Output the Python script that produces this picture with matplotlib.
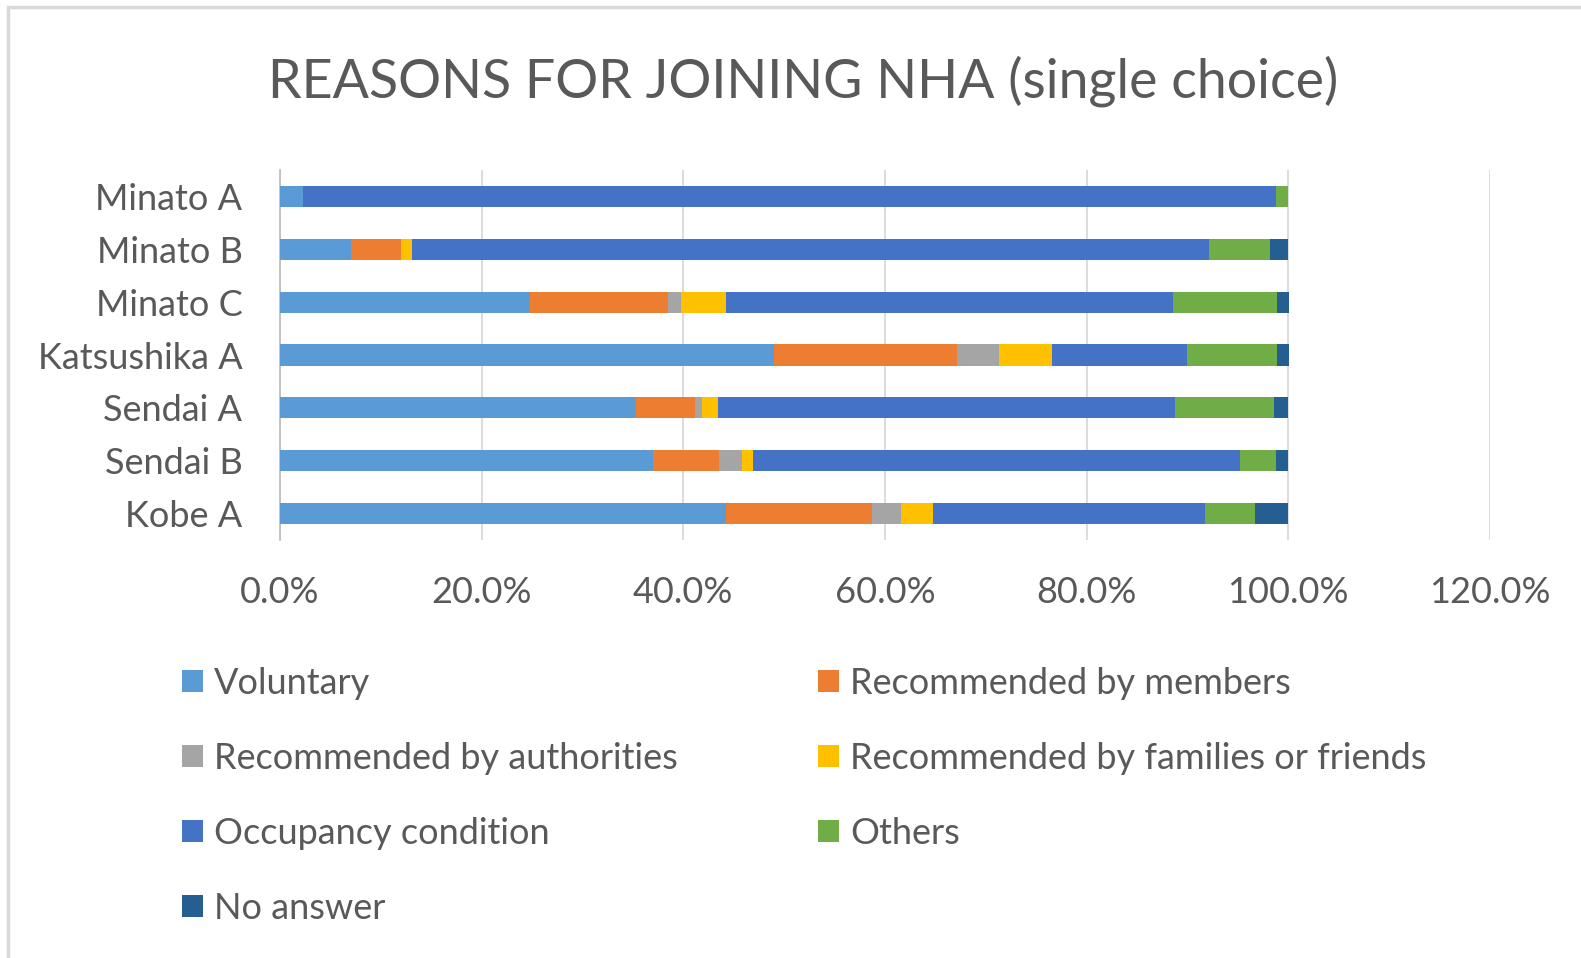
import numpy as np
import matplotlib.pyplot as plt
from matplotlib.patches import Patch, Rectangle

# Survey sites, top to bottom
sites = ['Minato A', 'Minato B', 'Minato C', 'Katsushika A', 'Sendai A', 'Sendai B', 'Kobe A']

# Share of respondents (%) for each reason
voluntary   = [2.3, 7.0, 24.8, 49.0, 35.3, 37.0, 44.2]
by_members  = [0.0, 5.0, 13.7, 18.1, 5.9, 6.5, 14.5]
by_authority = [0.0, 0.0, 1.3, 4.2, 0.7, 2.3, 2.9]
by_family   = [0.0, 1.1, 4.4, 5.3, 1.5, 1.1, 3.2]
occupancy   = [96.5, 79.0, 44.4, 13.4, 45.4, 48.3, 26.9]
others      = [1.2, 6.1, 10.3, 8.9, 9.8, 3.6, 5.0]
no_answer   = [0.0, 1.8, 1.2, 1.2, 1.4, 1.2, 3.3]

series = [
    ('Voluntary', voluntary, '#5B9BD5'),
    ('Recommended by members', by_members, '#ED7D31'),
    ('Recommended by authorities', by_authority, '#A5A5A5'),
    ('Recommended by families or friends', by_family, '#FFC000'),
    ('Occupancy condition', occupancy, '#4472C4'),
    ('Others', others, '#70AD47'),
    ('No answer', no_answer, '#255E91'),
]

text_col = '#595959'
plt.rcParams['font.family'] = ['Lato', 'DejaVu Sans']

fig = plt.figure(figsize=(15.81, 9.58), dpi=100)
ax = fig.add_axes([0.1771, 0.4363, 0.7653, 0.3862])

# chart frame (only top and left edges fall inside the image)
fig.patches.append(Rectangle((8 / 1581, -0.1), 1.2, 1 - 7 / 958 + 0.1,
                             transform=fig.transFigure, fill=False,
                             edgecolor='#D9D9D9', linewidth=2.5, zorder=0))

y = np.arange(len(sites))
left = np.zeros(len(sites))
handles = {}
for name, vals, col in series:
    vals = np.array(vals)
    ax.barh(y, vals, left=left, height=0.4, color=col, zorder=3)
    left += vals
    handles[name] = Patch(facecolor=col)

ax.set_xlim(0, 120)
ax.set_ylim(len(sites) - 0.5, -0.5)
ax.set_yticks(y)
ax.set_yticklabels(sites)
xt = np.arange(0, 121, 20)
ax.set_xticks(xt)
ax.set_xticklabels([f'{v:.1f}%' for v in xt])
ax.tick_params(axis='both', length=0, labelsize=26, labelcolor=text_col)
ax.tick_params(axis='x', pad=26)
ax.tick_params(axis='y', pad=27)
ax.grid(axis='x', color='#D9D9D9', linewidth=1.3, zorder=0)
for s in ['top', 'right', 'bottom']:
    ax.spines[s].set_visible(False)
ax.spines['left'].set_color('#BFBFBF')
ax.spines['left'].set_linewidth(1.3)

fig.text(0.508, 0.915, 'REASONS FOR JOINING NHA (single choice)',
         ha='center', va='center', fontsize=38.7, color=text_col)

# legend filled column by column so it reads across rows
order = ['Voluntary', 'Recommended by authorities', 'Occupancy condition', 'No answer',
         'Recommended by members', 'Recommended by families or friends', 'Others']
leg = fig.legend([handles[k] for k in order], order, ncol=2,
                 loc='upper left', bbox_to_anchor=(182 / 1581, 1 - 667 / 958),
                 frameon=False, fontsize=26, labelcolor=text_col,
                 handlelength=0.58, handleheight=0.58, handletextpad=0.3,
                 labelspacing=1.16, columnspacing=3.9, borderpad=0, borderaxespad=0)

fig.savefig('out.png', dpi=100)
